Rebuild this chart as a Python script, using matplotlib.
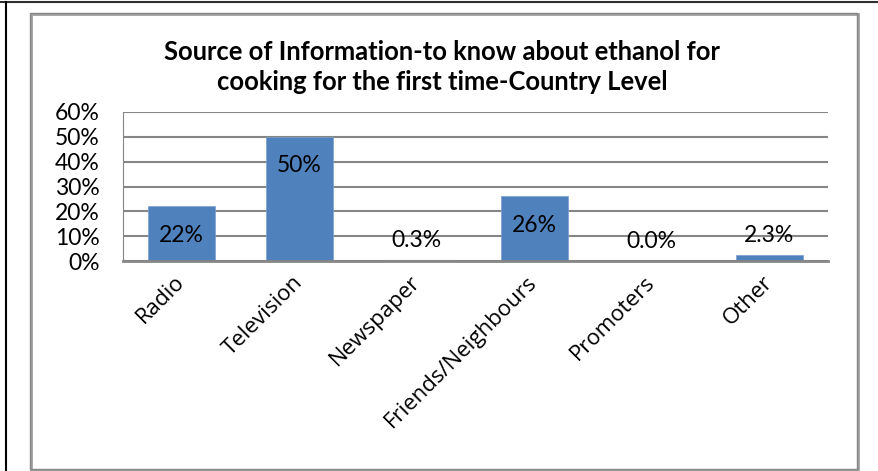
import matplotlib.pyplot as plt
from matplotlib.patches import Rectangle
from matplotlib.lines import Line2D

# --- Data ---
categories = ["Radio", "Television", "Newspaper", "Friends/Neighbours", "Promoters", "Other"]
shares = [22, 50, 0.3, 26, 0.0, 2.3]
yticks = [0, 10, 20, 30, 40, 50, 60]
title = "Source of Information-to know about ethanol for\ncooking for the first time-Country Level"

W, H = 879, 471
fig = plt.figure(figsize=(W / 100, H / 100), dpi=100)

def px(x0, y0, x1, y1):
    # pixel box (top-left origin) -> figure fraction rect
    return [x0 / W, 1 - y1 / H, (x1 - x0) / W, (y1 - y0) / H]

# --- Frames ---
fig.add_artist(Line2D([0, 1], [1 - 2 / H, 1 - 2 / H], color="#303030", lw=1.5, transform=fig.transFigure))
fig.add_artist(Line2D([6 / W, 6 / W], [0, 1 - 2 / H], color="black", lw=1.5, transform=fig.transFigure))
fig.add_artist(Rectangle((31 / W, 1 - 470 / H), 827 / W, 456 / H, transform=fig.transFigure,
                         fill=False, edgecolor="#a0a0a0", lw=2))
fig.add_artist(Rectangle((30 / W, 1 - 469 / H), 827 / W, 456 / H, transform=fig.transFigure,
                         fill=False, edgecolor="#868686", lw=1))

# --- Chart ---
ax = fig.add_axes(px(123, 112, 828, 261))
x = range(len(categories))
ax.bar(x, shares, width=0.57, color="#4f81bd", edgecolor="#7a9fcf", lw=0.5, zorder=3)
ax.set_xlim(-0.5, len(categories) - 0.5)
ax.set_ylim(0, 60)
ax.set_yticks(yticks)
ax.set_yticklabels([f"{t}%" for t in yticks], fontsize=16.5, family="Lato")
ax.yaxis.grid(True, color="#868686", lw=1.5, zorder=0)
ax.tick_params(length=0)
ax.tick_params(axis="y", pad=17)
for s in ["top", "right"]:
    ax.spines[s].set_visible(False)
ax.spines["left"].set_color("#868686")
ax.spines["bottom"].set_color("#868686")
ax.spines["bottom"].set_linewidth(2)
ax.spines["bottom"].set_zorder(4)

ax.set_xticks(list(x))
ax.set_xticklabels(categories, rotation=45, ha="right", va="center", rotation_mode="anchor",
                   fontsize=16, family="Open Sans")
ax.tick_params(axis="x", pad=13)

for i, v in enumerate(shares):
    if v >= 10:
        ax.annotate(f"{v:.0f}%", (i, v), xytext=(0, -21), textcoords="offset points",
                    ha="center", va="center", fontsize=16.5, family="Lato", zorder=5)
    else:
        ax.annotate(f"{v:.1f}%", (i, v), xytext=(0, 14), textcoords="offset points",
                    ha="center", va="center", fontsize=16.5, family="Lato", zorder=5)

fig.text(442 / W, 1 - 67 / H, title, ha="center", va="center", fontsize=18.4,
         fontweight="bold", family="Lato", linespacing=1.3)

fig.savefig("out.png", dpi=100)
